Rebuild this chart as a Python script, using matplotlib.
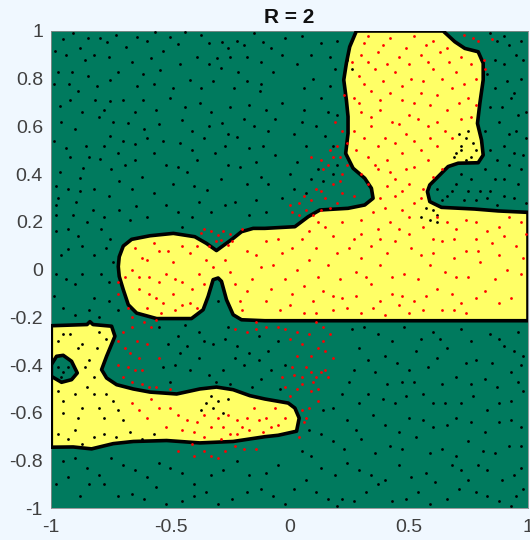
import matplotlib
matplotlib.use("Agg")
import matplotlib.pyplot as plt

# Region outlines (data units).
main_region = [(.28,1),(.252,.934),(.238,.865),(.227,.795),(.238,.711),(.245,.641),(.245,.571),(.235,.487),
 (.266,.425),(.315,.383),(.343,.341),(.35,.299),(.315,.271),(.245,.257),(.127,.25),(.078,.222),(.022,.18),
 (-.104,.173),(-.153,.173),(-.202,.159),(-.237,.131),(-.307,.08),(-.349,.11),(-.398,.138),(-.488,.152),
 (-.586,.142),(-.663,.127),(-.698,.099),(-.715,.054),(-.719,.013),(-.715,-.028),(-.698,-.084),(-.677,-.147),
 (-.642,-.182),(-.558,-.205),(-.412,-.205),(-.363,-.168),(-.342,-.112),(-.321,-.042),(-.30,-.035),(-.286,-.049),
 (-.265,-.126),(-.237,-.189),(-.202,-.21),(-.104,-.214),(1,-.214),(1,.24),(.875,.246),(.776,.254),(.637,.261),
 (.588,.285),(.578,.327),(.588,.355),(.665,.432),(.707,.446),(.791,.448),(.812,.48),(.805,.543),(.788,.613),
 (.798,.697),(.812,.795),(.812,.865),(.791,.913),(.735,.927),(.693,.955),(.644,1)]
lower_region = [(-1,-.235),(-.85,-.23),(-.838,-.218),(-.825,-.23),(-.747,-.237),(-.733,-.279),(-.768,-.363),
 (-.789,-.419),(-.768,-.454),(-.726,-.482),(-.656,-.5),(-.586,-.513),(-.474,-.521),(-.377,-.5),(-.307,-.492),
 (-.237,-.503),(-.167,-.528),(-.104,-.542),(-.006,-.559),(.022,-.58),(.04,-.622),(.029,-.677),(-.048,-.694),
 (-.104,-.70),(-.237,-.72),(-.377,-.726),(-.516,-.716),(-.656,-.72),(-.74,-.729),(-.831,-.751),(-.908,-.743),(-1,-.744)]
hole_region = [(-1,-.398),(-.978,-.363),(-.95,-.359),(-.915,-.384),(-.891,-.433),(-.915,-.461),(-.957,-.472),(-1,-.447)]

# Thinned set of dots: not the complete sample.
black_points = [(-.95,.965),(-.845,.97),(-.796,.97),(-.768,.955),(-.64,.975),(-.565,.995),(-.50,.975),(-.44,.995),
 (-.34,.95),(-.285,.955),(-.22,.96),(-.15,.99),(-.985,.915),(-.88,.93),(-.82,.90),(-.685,.935),(-.53,.915),(-.39,.89),
 (-.305,.885),(-.18,.89),(-.915,.83),(-.845,.81),(-.97,.83),(-.755,.795),(-.615,.82),(-.545,.835),(-.42,.795),
 (-.29,.845),(-.215,.83),(-.125,.75),(-.965,.685),(-.815,.71),(-.755,.705),(-.615,.71),(-.50,.72),(-.375,.70),
 (-.235,.76),(-.925,.78),(-.70,.71),(-.80,.64),(-.68,.615),(-.61,.59),(-.45,.625),(-.285,.615),(-.15,.60),
 (-.99,.54),(-.855,.52),(-.755,.56),(-.65,.525),(-.53,.54),(-.36,.55),(-.22,.555),(-.965,.41),(-.865,.425),
 (-.795,.465),(-.72,.49),(-.57,.49),(-.47,.43),(-.315,.49),(-.14,.45),(-.62,.39),(-.88,.385),(-.69,.44),(-.43,.41),
 (-.21,.43),(-.12,.39),(-.93,.34),(-.82,.34),(-.715,.37),(-.57,.32),(-.345,.335),(-.23,.285),(-.14,.29),
 (-.98,.27),(-.895,.285),(-.825,.25),(-.715,.25),(-.645,.265),(-.52,.27),(-.38,.285),(-.45,.18),(-.93,.17),
 (-.79,.17),(-.755,.13),(-.87,.10),(-.93,.085),(-.98,.16),(-.97,.30),(-.08,.93),(-.02,.97),(.05,.98),(.13,.95),
 (.20,.96),(-.07,.83),(.03,.86),(.10,.80),(.19,.84),(-.03,.70),(.06,.67),(.13,.72),(.20,.65),(-.09,.58),(.02,.57),
 (.11,.60),(.18,.52),(-.06,.48),(.03,.45),(.12,.42),(.20,.44),(-.09,.36),(-.03,.30),(.07,.32),(-.10,.24),
 (.87,.96),(.92,.94),(.95,.90),(.90,.86),(.97,.80),(.86,.76),(.93,.72),(.99,.66),(.88,.62),(.95,.58),(.90,.52),
 (.84,.50),(.98,.48),(.92,.44),(.86,.38),(.96,.36),(.90,.31),(.83,.30),(.99,.28),(.76,.38),(.70,.36),(.66,.31),
 (.62,.34),(.73,.29),(.80,.33),(.71,.57),(.74,.55),(.76,.47),(.78,.50),(.72,.50),(.70,.49),(.75,.58),(.60,.25),
 (.57,.26),(.62,.20),(.55,.22),(.24,.88),(.26,.84),
 (-.98,-.02),(-.90,-.06),(-.82,-.12),(-.76,-.05),(-.95,-.16),(-.80,-.20),(-.72,-.17),
 (-.55,-.24),(-.47,-.28),(-.38,-.26),(-.30,-.13),(-.32,-.31),(-.22,-.32),(-.13,-.28),(-.28,-.42),(-.19,-.40),
 (-.09,-.34),(-.46,-.35),(-.38,-.37),(-.53,-.41),(-.25,-.48),(-.12,-.46),(-.04,-.50),(-.08,-.42),(-.50,-.47),
 (.26,-.25),(.37,-.27),(.48,-.24),(.60,-.26),(.72,-.25),(.84,-.27),(.96,-.26),(.29,-.33),(.40,-.36),(.53,-.34),
 (.66,-.33),(.78,-.38),(.90,-.32),(.98,-.36),(.27,-.42),(.36,-.43),(.47,-.47),(.58,-.41),(.70,-.45),(.82,-.46),
 (.93,-.43),(.22,-.52),(.33,-.52),(.44,-.56),(.56,-.52),(.65,-.56),(.77,-.53),(.88,-.56),(.98,-.51),(.14,-.59),
 (.24,-.63),(.35,-.61),(.50,-.62),(.60,-.66),(.70,-.62),(.82,-.68),(.93,-.63),(.08,-.67),(.18,-.72),(.30,-.71),
 (.42,-.74),(.53,-.70),(.64,-.75),(.75,-.72),(.86,-.77),(.97,-.74),(.05,-.76),(.13,-.83),(.24,-.81),(.34,-.86),
 (.46,-.82),(.57,-.85),(.68,-.82),(.75,-.88),(.83,-.84),(.94,-.86),(.02,-.92),(.11,-.93),(.22,-.96),(.32,-.93),
 (.43,-.97),(.54,-.93),(.66,-.96),(.78,-.93),(.88,-.97),(.98,-.92),(.93,-.99),(.20,-.99),(-.02,-.98),
 (-.95,-.80),(-.85,-.83),(-.75,-.79),(-.65,-.84),(-.55,-.81),(-.45,-.85),(-.33,-.86),(-.22,-.80),(-.10,-.85),
 (-.98,-.90),(-.88,-.95),(-.78,-.90),(-.66,-.94),(-.56,-.91),(-.45,-.97),(-.35,-.93),(-.24,-.96),(-.12,-.92),
 (-.97,-.30),(-.92,-.27),(-.87,-.31),(-.80,-.26),(-.84,-.38),(-.77,-.29),(-.82,-.45),(-.97,-.51),(-.90,-.52),
 (-.82,-.52),(-.74,-.55),(-.95,-.60),(-.87,-.58),(-.78,-.62),(-.70,-.63),(-.90,-.67),(-.82,-.70),(-.73,-.70),
 (-.97,-.69),(-.62,-.71),(-.35,-.56),(-.30,-.55),(-.28,-.60),(-.97,-.41),(-.95,-.43),(-.93,-.41),(-.96,-.45),
 # second reading pass
 (-.91,.99),(-.73,.985),(-.60,.96),(-.47,.945),(-.37,.985),(-.26,.93),(-.19,.94),(-.11,.955),(-.94,.90),(-.86,.88),
 (-.76,.89),(-.66,.87),(-.58,.885),(-.46,.86),(-.34,.86),(-.25,.89),(-.12,.87),(-.99,.78),(-.89,.75),(-.81,.77),
 (-.72,.83),(-.64,.77),(-.57,.78),(-.49,.76),(-.37,.76),(-.32,.79),(-.18,.79),(-.92,.71),(-.87,.66),(-.78,.67),
 (-.65,.66),(-.56,.67),(-.44,.68),(-.33,.66),(-.25,.68),(-.17,.69),(-.10,.67),(-.96,.62),(-.90,.59),(-.74,.62),
 (-.55,.61),(-.41,.58),(-.34,.60),(-.26,.57),(-.19,.63),(-.94,.51),(-.78,.52),(-.70,.54),(-.60,.55),(-.46,.53),
 (-.41,.50),(-.27,.52),(-.17,.51),(-.92,.47),(-.84,.47),(-.75,.42),(-.65,.46),(-.52,.44),(-.39,.46),(-.26,.44),
 (-.98,.35),(-.88,.33),(-.76,.31),(-.66,.34),(-.49,.36),(-.40,.35),(-.29,.38),(-.18,.36),(-.91,.23),(-.85,.20),
 (-.78,.22),(-.67,.21),(-.60,.22),(-.47,.24),(-.41,.22),(-.33,.24),(-.27,.27),(-.17,.23),(-.96,.06),(-.89,.14),
 (-.82,.06),(-.77,.09),(-.74,.03),(-.98,.23),(-.03,.90),(.09,.90),(.17,.89),(-.12,.78),(.06,.76),(.17,.77),(.23,.77),
 (-.06,.63),(.05,.62),(.16,.66),(-.11,.52),(.07,.52),(.15,.56),(.00,.40),(.09,.38),(.18,.40),(.02,.34),(.14,.37),
 (.84,.99),(.90,.98),(.97,.96),(.86,.88),(.98,.88),(.83,.82),(.91,.79),(.94,.74),(.84,.68),(.89,.68),(.96,.65),
 (.82,.58),(.92,.57),(.99,.55),(.87,.46),(.94,.49),(.82,.42),(.97,.42),(.90,.38),(.84,.33),(.94,.30),(.87,.27),
 (.72,.40),(.68,.33),(.78,.29),(.75,.33),(.64,.29),(.72,.52),(.69,.47),(.77,.53),(.74,.46),(.62,.23),(.59,.21),
 (-.94,-.04),(-.87,-.02),(-.99,-.11),(-.84,-.17),(-.76,-.13),(-.90,-.19),(-.79,-.02),(-.44,-.23),(-.26,-.24),(-.36,-.30),
 (-.51,-.31),(-.43,-.32),(-.27,-.29),(-.17,-.35),(-.34,-.44),(-.42,-.42),(-.48,-.40),(-.23,-.37),(-.13,-.38),(-.16,-.49),
 (-.31,-.47),(-.05,-.30),(-.02,-.40),(.31,-.24),(.43,-.30),(.55,-.29),(.63,-.29),(.76,-.30),(.88,-.29),(.94,-.34),
 (.33,-.38),(.45,-.39),(.50,-.42),(.62,-.37),(.74,-.39),(.85,-.39),(.97,-.40),(.25,-.47),(.41,-.48),(.52,-.47),(.64,-.48),
 (.76,-.48),(.87,-.49),(.96,-.47),(.29,-.56),(.39,-.54),(.49,-.53),(.60,-.56),(.72,-.56),(.83,-.59),(.93,-.55),
 (.18,-.58),(.28,-.67),(.40,-.65),(.46,-.68),(.56,-.63),(.66,-.65),(.76,-.64),(.88,-.64),(.97,-.66),(.13,-.69),
 (.23,-.75),(.36,-.77),(.47,-.75),(.59,-.77),(.70,-.78),(.81,-.76),(.92,-.74),(.09,-.78),(.19,-.86),(.29,-.84),
 (.40,-.88),(.51,-.87),(.61,-.89),(.72,-.84),(.79,-.82),(.89,-.88),(.97,-.83),(.07,-.88),(.16,-.96),(.27,-.97),(.37,-.90),
 (.49,-.96),(.59,-.98),(.71,-.92),(.83,-.95),(.95,-.95),(-.90,-.79),(-.80,-.86),(-.70,-.82),(-.60,-.87),(-.50,-.83),
 (-.40,-.90),(-.28,-.84),(-.17,-.86),(-.05,-.82),(-.93,-.87),(-.84,-.90),(-.72,-.95),(-.61,-.96),(-.52,-.98),(-.40,-.95),
 (-.30,-.98),(-.18,-.93),(-.07,-.95),(-.95,-.27),(-.89,-.33),(-.81,-.33),(-.86,-.41),(-.95,-.55),(-.85,-.49),(-.77,-.52),
 (-.89,-.62),(-.80,-.58),(-.72,-.59),(-.93,-.71),(-.87,-.73),(-.78,-.69),(-.67,-.68),(-.57,-.69),(-.33,-.53),(-.26,-.54),
 (-.32,-.58),(-.37,-.59)]

red_points = [(.33,.98),(.42,.97),(.52,.98),(.60,.96),(.30,.90),(.37,.91),(.46,.89),(.55,.90),(.63,.91),(.72,.89),
 (.29,.81),(.36,.84),(.44,.83),(.51,.80),(.60,.84),(.70,.83),(.78,.80),(.27,.72),(.34,.75),(.42,.74),(.47,.71),
 (.55,.74),(.62,.73),(.68,.76),(.75,.72),(.30,.66),(.38,.67),(.43,.62),(.50,.65),(.58,.60),(.66,.67),(.72,.63),
 (.27,.58),(.34,.60),(.40,.55),(.49,.57),(.55,.50),(.62,.52),(.68,.55),(.28,.50),(.33,.47),(.41,.46),(.47,.49),
 (.52,.43),(.58,.46),(.64,.42),(.30,.40),(.37,.42),(.44,.38),(.50,.36),(.56,.34),(.38,.30),(.44,.31),(.52,.28),
 (.35,.24),(.42,.20),(.50,.22),(.30,.15),(.62,.22),(.70,.17),(.78,.20),(.88,.18),(.97,.20),
 (.12,.20),(.05,.13),(.18,.14),(.25,.09),(.34,.10),(.44,.12),(.55,.06),(.64,.12),(.74,.08),(.85,.11),(.95,.10),
 (-.10,.12),(-.03,.07),(.08,.04),(.16,.02),(.28,-.01),(.38,.02),(.48,-.02),(.59,.02),(.70,-.03),(.80,.03),(.91,.00),
 (-.18,.08),(-.12,.01),(-.02,-.04),(.06,-.07),(.14,-.09),(.22,-.12),(.34,-.06),(.43,-.10),(.52,-.13),(.62,-.08),
 (.72,-.14),(.82,-.09),(.93,-.12),(-.18,-.09),(-.10,-.13),(-.04,-.17),(.06,-.18),(.18,-.17),(.30,-.18),(.40,-.19),
 (.50,-.18),(.64,-.17),(.74,-.18),(-.65,.09),(-.60,.04),(-.55,.08),(-.49,.03),(-.42,.07),(-.35,.04),(-.27,.04),
 (-.66,.00),(-.59,-.03),(-.52,-.02),(-.45,-.05),(-.38,-.02),(-.63,-.08),(-.56,-.12),(-.49,-.10),(-.42,-.14),
 (-.60,-.16),(-.48,-.17),(-.23,-.06),(-.21,-.13),(-.16,-.04),
 (-.33,.16),(-.30,.145),(-.29,.125),(-.25,.15),(-.37,.155),(-.34,.10),(-.26,.105),(-.20,.17),
 (.01,.24),(.04,.23),(.10,.23),(.13,.25),(.20,.28),(.04,.28),(.09,.29),(.15,.30),(.22,.32),(.11,.34),(.18,.36),
 (.09,.47),(.13,.46),(.16,.44),(.17,.50),(.20,.52),(.24,.53),(.22,.58),(.19,.62),(.23,.73),(.27,.31),
 (.73,.985),(.77,.97),(.79,.96),(.85,.965),(.82,.84),(.815,.88),
 (-.72,-.05),(-.72,-.10),(-.68,-.16),(-.66,-.20),(-.61,-.22),(-.56,-.21),(-.70,-.26),(-.72,-.30),(-.64,-.30),
 (-.60,-.31),(-.67,-.35),(-.63,-.37),(-.55,-.37),(-.72,-.40),(-.68,-.41),(-.65,-.42),(-.62,-.48),(-.56,-.49),
 (-.50,-.50),(-.23,-.25),(-.18,-.26),(-.10,-.24),(-.05,-.24),(-.14,-.22),
 (-.02,-.25),(.03,-.26),(.11,-.22),(.14,-.24),(.05,-.31),(.14,-.30),(.17,-.27),(.09,-.36),(.15,-.34),(.18,-.37),
 (.03,-.36),(-.03,-.45),(.02,-.44),(.07,-.41),(.11,-.45),(.13,-.43),(.16,-.45),(-.02,-.49),(.03,-.50),(.09,-.51),
 (.12,-.50),(.12,-.55),(.05,-.59),(.07,-.62),(.06,-.64),(.04,-.70),
 (-.66,-.56),(-.58,-.54),(-.50,-.58),(-.43,-.63),(-.36,-.61),(-.28,-.66),(-.22,-.63),(-.15,-.58),(-.10,-.62),
 (-.06,-.58),(-.02,-.62),(-.60,-.62),(-.52,-.66),(-.40,-.68),(-.30,-.62),(-.25,-.69),(-.17,-.67),(-.08,-.66),
 (-.47,-.76),(-.41,-.73),(-.36,-.76),(-.33,-.78),(-.27,-.76),(-.23,-.74),(-.14,-.75),
 # second reading pass
 (.31,.95),(.39,.94),(.49,.93),(.57,.94),(.66,.93),(.26,.87),(.33,.87),(.41,.86),(.50,.86),(.58,.87),(.67,.87),(.76,.86),
 (.31,.78),(.39,.79),(.47,.77),(.56,.79),(.64,.80),(.73,.78),(.29,.70),(.38,.71),(.52,.70),(.59,.69),(.71,.70),(.78,.69),
 (.34,.64),(.46,.61),(.54,.63),(.62,.62),(.76,.64),(.31,.55),(.37,.52),(.44,.53),(.52,.54),(.59,.55),(.65,.58),(.36,.44),
 (.42,.41),(.49,.42),(.60,.39),(.33,.36),(.41,.35),(.47,.33),(.55,.30),(.40,.26),(.47,.25),(.30,.21),(.37,.17),(.46,.17),
 (.56,.18),(.66,.20),(.74,.21),(.83,.16),(.92,.22),(.99,.15),(.08,.16),(.15,.18),(.22,.20),(.27,.13),(.38,.13),(.50,.15),
 (.60,.13),(.69,.13),(.78,.13),(.90,.14),(-.05,.13),(.01,.09),(.11,.09),(.20,.07),(.30,.05),(.41,.07),(.51,.09),(.60,.07),
 (.69,.05),(.79,.08),(.88,.06),(.98,.05),(-.14,.06),(-.07,.02),(.03,.00),(.12,-.03),(.21,-.04),(.32,-.03),(.43,-.03),(.54,-.04),
 (.65,-.01),(.75,-.03),(.86,-.04),(.97,-.02),(-.08,-.08),(.01,-.10),(.10,-.13),(.18,-.11),(.28,-.11),(.38,-.13),(.47,-.11),
 (.57,-.11),(.68,-.10),(.78,-.12),(.88,-.14),(.00,-.15),(.11,-.18),(.24,-.16),(.35,-.16),(.46,-.15),(.56,-.17),(.69,-.17),
 (-.62,.05),(-.57,.11),(-.51,.08),(-.45,.10),(-.39,.10),(-.32,.01),(-.63,-.03),(-.55,-.05),(-.48,-.04),(-.41,-.08),
 (-.36,-.06),(-.59,-.10),(-.53,-.14),(-.45,-.15),(-.39,-.16),(-.54,-.18),(-.25,-.01),(-.20,-.17),
 (-.36,.17),(-.31,.12),(-.28,.16),(-.24,.12),(.00,.27),(.07,.25),(.17,.26),(.13,.33),(.06,.31),(.21,.37),(.14,.42),(.18,.47),
 (.21,.47),(.24,.44),(.22,.40),(-.69,-.03),(-.66,-.24),(-.58,-.24),(-.69,-.33),(-.62,-.42),(-.66,-.47),(-.59,-.49),
 (-.70,-.45),(-.14,-.25),(.00,-.29),(.08,-.27),(.12,-.33),(.01,-.41),(.05,-.45),(.09,-.43),(.15,-.42),(.00,-.53),(.05,-.48),
 (.10,-.47),(.08,-.58),(-.63,-.59),(-.55,-.58),(-.47,-.61),(-.39,-.64),(-.33,-.66),(-.26,-.61),(-.20,-.66),(-.13,-.63),
 (-.05,-.65),(-.45,-.67),(-.36,-.70),(-.29,-.71),(-.18,-.62),(-.22,-.69),(-.11,-.68),(-.40,-.78),(-.30,-.79),(-.19,-.75)]

fig = plt.figure(figsize=(5.3, 5.4), dpi=100, facecolor="#f0f8ff")
ax = fig.add_axes([51.3/530, 31.7/540, 476.7/530, 477.3/540])
ax.set_facecolor("#007a5e")
for region in (main_region, lower_region):
    ax.fill(*zip(*region), color="#ffff66", lw=0, zorder=1)
ax.fill(*zip(*hole_region), color="#007a5e", lw=0, zorder=2)
for region in (main_region, lower_region, hole_region):
    ax.fill(*zip(*region), fc="none", ec="black", lw=2.6, zorder=3, joinstyle="round")
ax.scatter(*zip(*black_points), s=4, c="black", lw=0, zorder=4)
ax.scatter(*zip(*red_points), s=4, c="#ff0000", lw=0, zorder=5)

ax.set_xlim(-1, 1)
ax.set_ylim(-1, 1)
ax.set_xticks([-1, -.5, 0, .5, 1], ["-1", "-0.5", "0", "0.5", "1"])
ax.set_yticks([-1, -.8, -.6, -.4, -.2, 0, .2, .4, .6, .8, 1],
              ["-1", "-0.8", "-0.6", "-0.4", "-0.2", "0", "0.2", "0.4", "0.6", "0.8", "1"])
ax.tick_params(length=0, labelsize=14, labelcolor="#404040", labelfontfamily="Liberation Sans")
ax.tick_params(axis="x", pad=8)
ax.tick_params(axis="y", pad=6)
for side, spine in ax.spines.items():
    spine.set_linewidth(0.6)
    spine.set_color("#8a8a8a")
ax.set_title("R = 2", fontsize=15, fontweight="bold", family="Liberation Sans", color="#111111", pad=6)
fig.savefig("out.png", dpi=100, facecolor=fig.get_facecolor())
